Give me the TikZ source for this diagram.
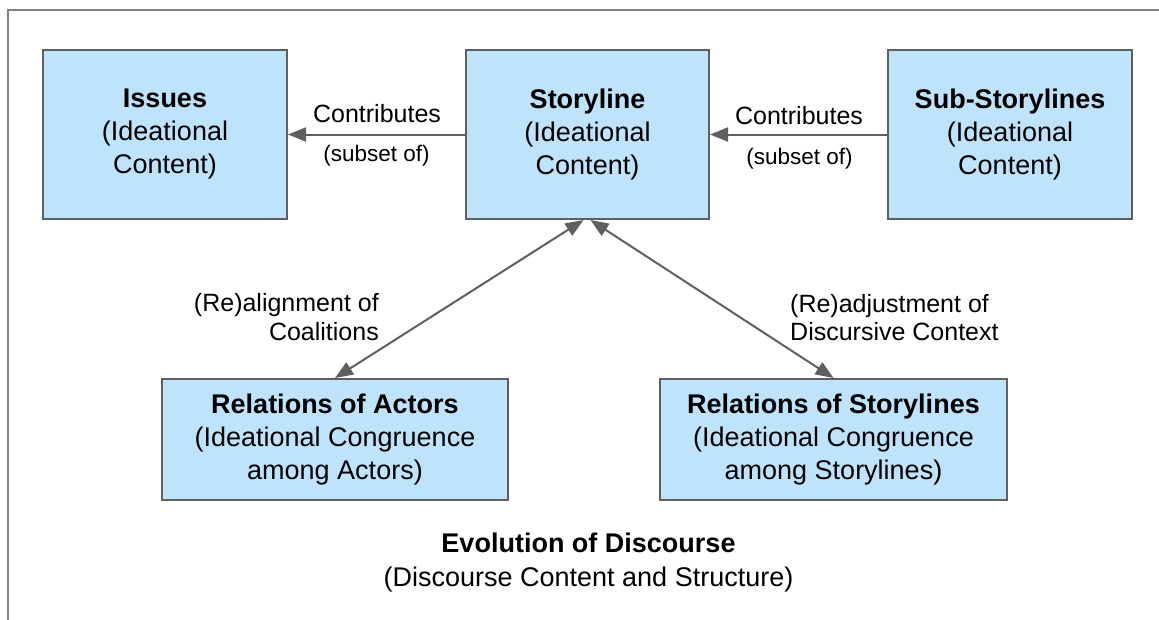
\documentclass[tikz,border=0pt]{standalone}
\usepackage{fontspec}
\setmainfont{Liberation Sans}
\usetikzlibrary{arrows.meta}
\definecolor{boxfill}{RGB}{190,228,252}
\definecolor{edgec}{RGB}{95,95,95}
\definecolor{framec}{RGB}{130,130,130}
\begin{document}
\begin{tikzpicture}[x=1pt,y=-1pt,
  box/.style={draw=edgec, line width=2pt, fill=boxfill, align=center, inner sep=0pt, font=\fontsize{27}{33}\selectfont},
  conn/.style={draw=edgec, line width=2pt, -{Triangle[length=18pt,width=14pt]}},
  biconn/.style={draw=edgec, line width=2pt, {Triangle[length=18pt,width=14pt]}-{Triangle[length=18pt,width=14pt]}},
  lbl/.style={font=\fontsize{25}{29}\selectfont, inner sep=0pt},
  sublbl/.style={font=\fontsize{22.5}{27}\selectfont, inner sep=0pt},
  titlelbl/.style={font=\fontsize{27}{33}\selectfont, inner sep=0pt}]
\useasboundingbox (0,0) rectangle (1159,619);
\draw[framec, line width=2pt] (8,630) -- (8,10) -- (1170,10);

\node[box, minimum width=244pt, minimum height=169pt] (issues) at (165,134.5) {\textbf{Issues}\\(Ideational\\Content)};
\node[box, minimum width=243pt, minimum height=169pt] (story) at (587.5,134.5) {\textbf{Storyline}\\(Ideational\\Content)};
\node[box, minimum width=244pt, minimum height=169pt] (sub) at (1010,134.5) {\textbf{Sub-Storylines}\\(Ideational\\Content)};
\node[box, minimum width=346pt, minimum height=121pt] (actors) at (335,439.5) {\textbf{Relations of Actors}\\(Ideational Congruence\\among Actors)};
\node[box, minimum width=347pt, minimum height=121pt] (rels) at (833.5,439.5) {\textbf{Relations of Storylines}\\(Ideational Congruence\\among Storylines)};

\draw[conn] (story.west) -- (issues.east);
\draw[conn] (sub.west) -- (story.east);
\draw[biconn] ([xshift=-4pt]story.south) -- (actors.north);
\draw[biconn] ([xshift=3pt]story.south) -- (rels.north);

\node[lbl, anchor=base] (c1) at (377,122) {Contributes};
\node[sublbl, anchor=base] (s1) at (376.5,161) {(subset of)};
\node[lbl, anchor=base] (c2) at (799,124) {Contributes};
\node[sublbl, anchor=base] (s2) at (799.5,164) {(subset of)};

\node[lbl, anchor=base east] (ra1) at (379,311) {(Re)alignment of};
\node[lbl, anchor=base east] (ra2) at (379,340) {Coalitions};
\node[lbl, anchor=base west] (rd1) at (790,312) {(Re)adjustment of};
\node[lbl, anchor=base west] (rd2) at (790,340) {Discursive Context};

\node[titlelbl, anchor=base] (evo) at (588.5,552) {\textbf{Evolution of Discourse}};
\node[titlelbl, anchor=base] (disc) at (588.5,586) {(Discourse Content and Structure)};
\end{tikzpicture}
\end{document}
